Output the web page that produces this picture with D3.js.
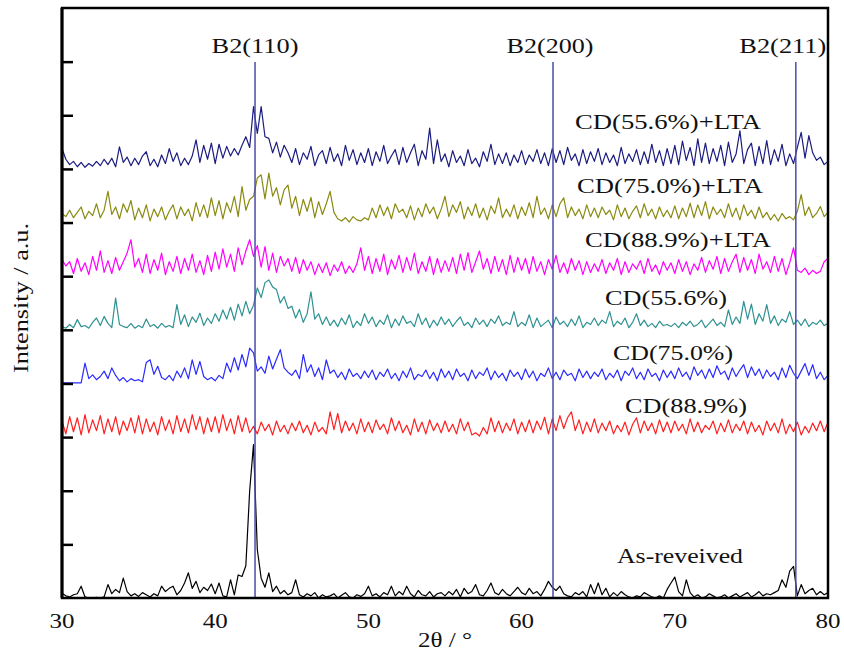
<!DOCTYPE html>
<html>
<head>
<meta charset="utf-8">
<script src="https://cdnjs.cloudflare.com/ajax/libs/d3/7.8.5/d3.min.js"></script>
<style>
  body { margin: 0; background: #fff; }
  text { font-family: "Liberation Serif", "Times New Roman", serif; fill: #111; }
</style>
</head>
<body>
<div class="canvas"></div>
<script>

// 2-theta sampling, 30..80 deg every 0.25 deg
var thetaStart = 30, thetaStep = 0.25;

var seriesNames = ["CD(55.6%)+LTA", "CD(75.0%)+LTA", "CD(88.9%)+LTA", "CD(55.6%)", "CD(75.0%)", "CD(88.9%)", "As-reveived"];
var seriesOffsets = [800, 699, 597, 500, 401, 300, 0];
var seriesColors = ["#1c1c80", "#8a8a10", "#ff00ff", "#2f9191", "#2b2bff", "#ff1f1f", "#000000"];

var cd556lta = [
  38,18,8,14,4,12,3,10,5,14,6,18,8,20,4,41,12,22,6,20,
  8,24,32,6,18,4,26,10,38,14,30,6,20,8,24,54,12,44,18,48,
  10,46,20,42,24,38,26,44,60,40,116,66,116,60,57,30,50,22,44,30,
  12,38,8,30,18,42,6,26,34,10,40,14,28,6,44,16,36,8,30,12,
  38,6,32,14,44,10,24,36,8,40,12,30,46,6,34,18,76,10,54,14,
  28,4,34,12,24,6,36,10,20,4,32,14,46,8,28,10,30,6,26,12,
  34,8,26,14,36,10,30,6,38,12,34,8,40,16,28,6,36,10,32,14,
  38,8,30,12,26,6,40,10,28,14,36,8,32,10,46,12,34,6,38,10,
  44,8,52,16,40,6,56,12,48,10,38,14,44,6,50,12,28,71,10,36,
  48,6,42,10,53,8,36,14,46,6,28,10,40,68,20,62,30,16,22,8,
  14];

var cd750lta = [
  18,12,24,10,20,30,8,22,14,36,10,24,59,16,30,8,36,20,42,6,
  28,10,34,4,26,12,30,6,22,34,8,30,14,26,4,38,12,34,10,47,
  14,42,8,38,20,50,12,68,24,44,50,84,90,45,93,50,66,34,62,71,
  28,50,14,44,22,48,10,40,16,36,59,20,8,4,10,2,12,6,4,10,
  6,28,10,34,14,30,8,36,20,26,10,32,6,28,12,36,18,30,8,26,
  50,12,34,20,40,8,30,14,36,10,28,6,32,18,47,10,26,12,34,8,
  30,14,38,10,50,16,28,8,34,12,36,47,10,30,14,26,8,34,12,28,
  10,30,16,24,6,34,12,28,8,22,32,10,36,14,26,8,30,12,24,10,
  32,8,28,12,37,10,34,14,40,8,30,16,26,10,36,12,28,6,34,14,
  24,8,30,10,20,6,16,4,18,8,12,6,22,53,14,30,10,18,31,12,
  20];

var cd889lta = [
  34,22,30,8,36,12,28,6,40,14,50,10,32,8,38,14,30,46,71,20,
  36,10,44,8,34,14,46,6,30,12,40,8,36,14,44,10,32,6,42,12,
  48,16,54,20,44,12,56,24,50,71,40,60,20,58,14,46,10,40,22,36,
  12,38,8,34,14,30,6,26,10,28,4,24,12,30,8,22,10,26,56,14,
  40,8,36,12,44,6,34,16,42,10,38,14,46,8,30,12,40,6,36,10,
  32,12,38,8,44,14,47,10,30,50,16,36,8,40,12,34,6,42,10,38,
  14,36,8,40,12,30,6,34,16,42,10,28,8,36,14,32,6,30,10,26,
  12,34,8,28,14,36,6,30,10,26,16,32,8,36,12,24,6,30,14,28,
  8,34,12,30,6,26,14,38,10,32,16,40,8,36,12,30,44,10,38,14,
  34,8,44,16,30,10,40,12,36,6,28,56,14,10,18,6,14,8,12,30,
  36];

var cd556 = [
  6,3,10,4,19,6,8,3,14,22,8,25,12,4,59,10,6,4,12,3,
  8,4,20,6,10,3,12,5,8,4,47,10,28,6,24,14,31,8,22,12,
  30,16,37,20,42,18,48,26,53,30,46,78,60,88,93,80,75,50,62,40,
  44,22,38,14,30,71,20,30,10,24,8,18,6,22,10,28,4,16,8,30,
  12,24,6,18,10,28,4,20,8,26,12,16,6,30,10,22,4,18,8,24,
  10,20,6,16,24,8,14,4,22,10,18,6,20,12,26,8,14,10,34,6,
  14,8,28,4,22,6,12,18,4,24,10,16,6,20,8,26,4,14,10,22,
  8,18,12,34,6,16,10,22,4,14,30,8,18,6,12,4,16,8,10,6,
  12,4,14,8,16,6,10,18,4,12,20,8,14,6,37,10,24,12,53,20,
  48,10,30,16,47,12,26,8,20,14,34,10,18,8,20,6,14,10,18,8,
  12];

var cd750 = [
  0,0,0,0,0,0,37,8,15,6,12,22,8,28,14,4,10,2,8,4,
  6,2,38,43,16,31,10,6,14,4,22,10,28,8,43,16,40,12,6,10,
  4,14,8,37,20,47,24,53,30,65,56,22,30,18,50,26,44,62,28,20,
  14,24,8,53,20,34,12,28,6,43,18,24,10,20,6,26,12,18,8,22,
  10,24,6,20,12,26,8,18,4,22,10,28,6,16,12,24,8,20,4,26,
  10,22,6,26,12,18,4,24,8,20,14,28,6,22,10,18,4,24,12,20,
  6,26,10,22,4,18,12,28,8,20,6,24,14,18,4,26,10,22,8,20,
  12,26,6,18,10,24,4,22,14,28,8,20,6,26,12,18,4,24,10,22,
  8,28,12,20,6,30,14,24,8,26,10,32,16,22,6,28,12,24,34,10,
  30,14,26,8,24,12,20,6,28,10,33,18,8,22,36,14,34,8,20,6,
  14];

var cd889 = [
  30,6,38,10,36,4,42,8,32,12,40,6,34,10,38,4,30,12,36,8,
  40,6,34,10,28,4,38,12,32,6,40,10,34,8,42,14,38,6,36,10,
  38,8,42,12,34,6,40,10,36,8,20,6,28,12,24,4,30,10,22,6,
  26,12,30,8,22,4,28,10,18,6,47,14,44,8,30,12,26,6,34,10,
  28,8,32,14,24,6,36,12,30,8,22,4,34,10,28,6,32,12,26,8,
  30,10,24,6,34,12,28,4,8,2,18,6,36,10,30,8,26,12,34,6,
  28,10,32,8,30,14,37,6,34,12,40,16,36,47,12,32,6,28,10,34,
  8,26,12,30,6,22,10,28,4,24,36,8,30,12,26,6,32,10,28,8,
  30,12,24,6,34,10,28,8,22,14,30,6,26,10,32,8,24,12,30,6,
  28,10,22,4,30,12,26,8,34,6,24,10,28,4,20,8,26,12,30,10,
  28];

var asReceived = [
  9,4,2,6,8,22,2,0,0,1,0,2,25,8,16,10,37,12,4,8,
  3,10,6,2,8,4,22,12,18,22,6,14,28,47,18,31,10,20,14,26,
  8,28,4,2,34,6,43,40,60,200,286,90,37,20,47,12,22,8,14,6,
  10,34,6,2,8,4,10,0,6,2,4,8,0,5,10,2,0,6,3,8,
  22,4,8,2,10,6,22,4,12,6,22,8,2,14,6,4,12,2,8,10,
  4,12,6,16,2,18,8,12,25,6,4,14,28,10,6,16,8,4,12,20,
  10,6,18,8,12,4,16,31,20,14,22,8,4,2,10,6,12,2,25,8,
  28,6,18,2,10,4,12,6,2,0,4,2,10,6,2,0,4,0,16,28,
  39,12,4,34,10,2,6,0,2,8,4,0,2,6,0,4,8,2,6,10,
  2,6,12,4,8,6,10,14,34,20,50,59,4,25,8,14,18,6,12,6,
  10];

var seriesValues = [cd556lta, cd750lta, cd889lta, cd556, cd750, cd889, asReceived];

// B2 reflections
var peakNames = ["B2(110)", "B2(200)", "B2(211)"];
var peakTheta = [42.6, 62.05, 77.9];

var xTicks = [30, 40, 50, 60, 70, 80];
var yTicks = [100, 200, 300, 400, 500, 600, 700, 800, 900, 1000];


var margin = {left: 62, right: 828, top: 8, bottom: 598};

var svg = d3.select(".canvas")
			.append("svg")
			.attr("width", 844)
			.attr("height", 652);

var x = d3.scaleLinear().domain([30, 80]).range([margin.left, margin.right]);
var y = d3.scaleLinear().domain([0, 1100]).range([margin.bottom, margin.top]);


// TRACES

var line = d3.line()
			 .x(function(d, i){ return x(thetaStart + i * thetaStep); })
			 .y(function(d){ return y(d.v); });

seriesValues.forEach(function(vals, k){
	var pts = vals.map(function(v){ return {v: v + seriesOffsets[k]}; });
	svg.append("path")
	   .datum(pts)
	   .attr("d", line)
	   .attr("fill", "none")
	   .attr("stroke", seriesColors[k])
	   .attr("stroke-width", 1.2)
	   .attr("stroke-linejoin", "round");
});


// B2 LINES

var labelShift = [0, -3, -13];

peakTheta.forEach(function(p, i){
	svg.append("line")
	   .attr("x1", x(p))
	   .attr("x2", x(p))
	   .attr("y1", 62)
	   .attr("y2", margin.bottom)
	   .attr("stroke", "#4b4bab")
	   .attr("stroke-width", 1.5);

	svg.append("text")
	   .attr("x", x(p) + labelShift[i])
	   .attr("y", 53)
	   .attr("text-anchor", "middle")
	   .attr("font-size", 22)
	   .attr("textLength", 87)
	   .attr("lengthAdjust", "spacingAndGlyphs")
	   .text(peakNames[i]);
});


// SERIES LABELS

var labelPos = [
	{x: 575, y: 129, w: 186},
	{x: 577, y: 193, w: 186},
	{x: 585, y: 247, w: 186},
	{x: 605, y: 305, w: 122},
	{x: 613, y: 360, w: 120},
	{x: 625, y: 413, w: 122},
	{x: 617, y: 563, w: 126}
];

seriesNames.forEach(function(name, i){
	svg.append("text")
	   .attr("x", labelPos[i].x)
	   .attr("y", labelPos[i].y)
	   .attr("font-size", 22)
	   .attr("textLength", labelPos[i].w)
	   .attr("lengthAdjust", "spacingAndGlyphs")
	   .text(name);
});


// AXES

svg.append("g")
   .attr("transform", "translate(" + margin.left + ",0)")
   .call(d3.axisRight(y).tickValues(yTicks).tickSize(11).tickFormat(""))
   .call(function(g){ g.select(".domain").remove(); })
   .selectAll("line")
   .attr("stroke", "#000")
   .attr("stroke-width", 2.5);

svg.append("rect")
   .attr("x", margin.left)
   .attr("y", margin.top)
   .attr("width", margin.right - margin.left)
   .attr("height", margin.bottom - margin.top)
   .attr("fill", "none")
   .attr("stroke", "#000")
   .attr("stroke-width", 2.5);

svg.append("line")
   .attr("x1", margin.left)
   .attr("x2", margin.left)
   .attr("y1", margin.top)
   .attr("y2", margin.bottom)
   .attr("stroke", "#000")
   .attr("stroke-width", 3);

xTicks.forEach(function(t){
	svg.append("text")
	   .attr("x", x(t))
	   .attr("y", 628)
	   .attr("text-anchor", "middle")
	   .attr("font-size", 20)
	   .attr("textLength", 25)
	   .attr("lengthAdjust", "spacingAndGlyphs")
	   .text(t);
});

svg.append("text")
   .attr("x", 445)
   .attr("y", 647)
   .attr("text-anchor", "middle")
   .attr("font-size", 20)
   .attr("textLength", 54)
   .attr("lengthAdjust", "spacingAndGlyphs")
   .text("2θ / °");

svg.append("text")
   .attr("transform", "translate(28,298) rotate(-90)")
   .attr("text-anchor", "middle")
   .attr("font-size", 20)
   .attr("textLength", 150)
   .attr("lengthAdjust", "spacingAndGlyphs")
   .text("Intensity / a.u.");

</script>
</body>
</html>
